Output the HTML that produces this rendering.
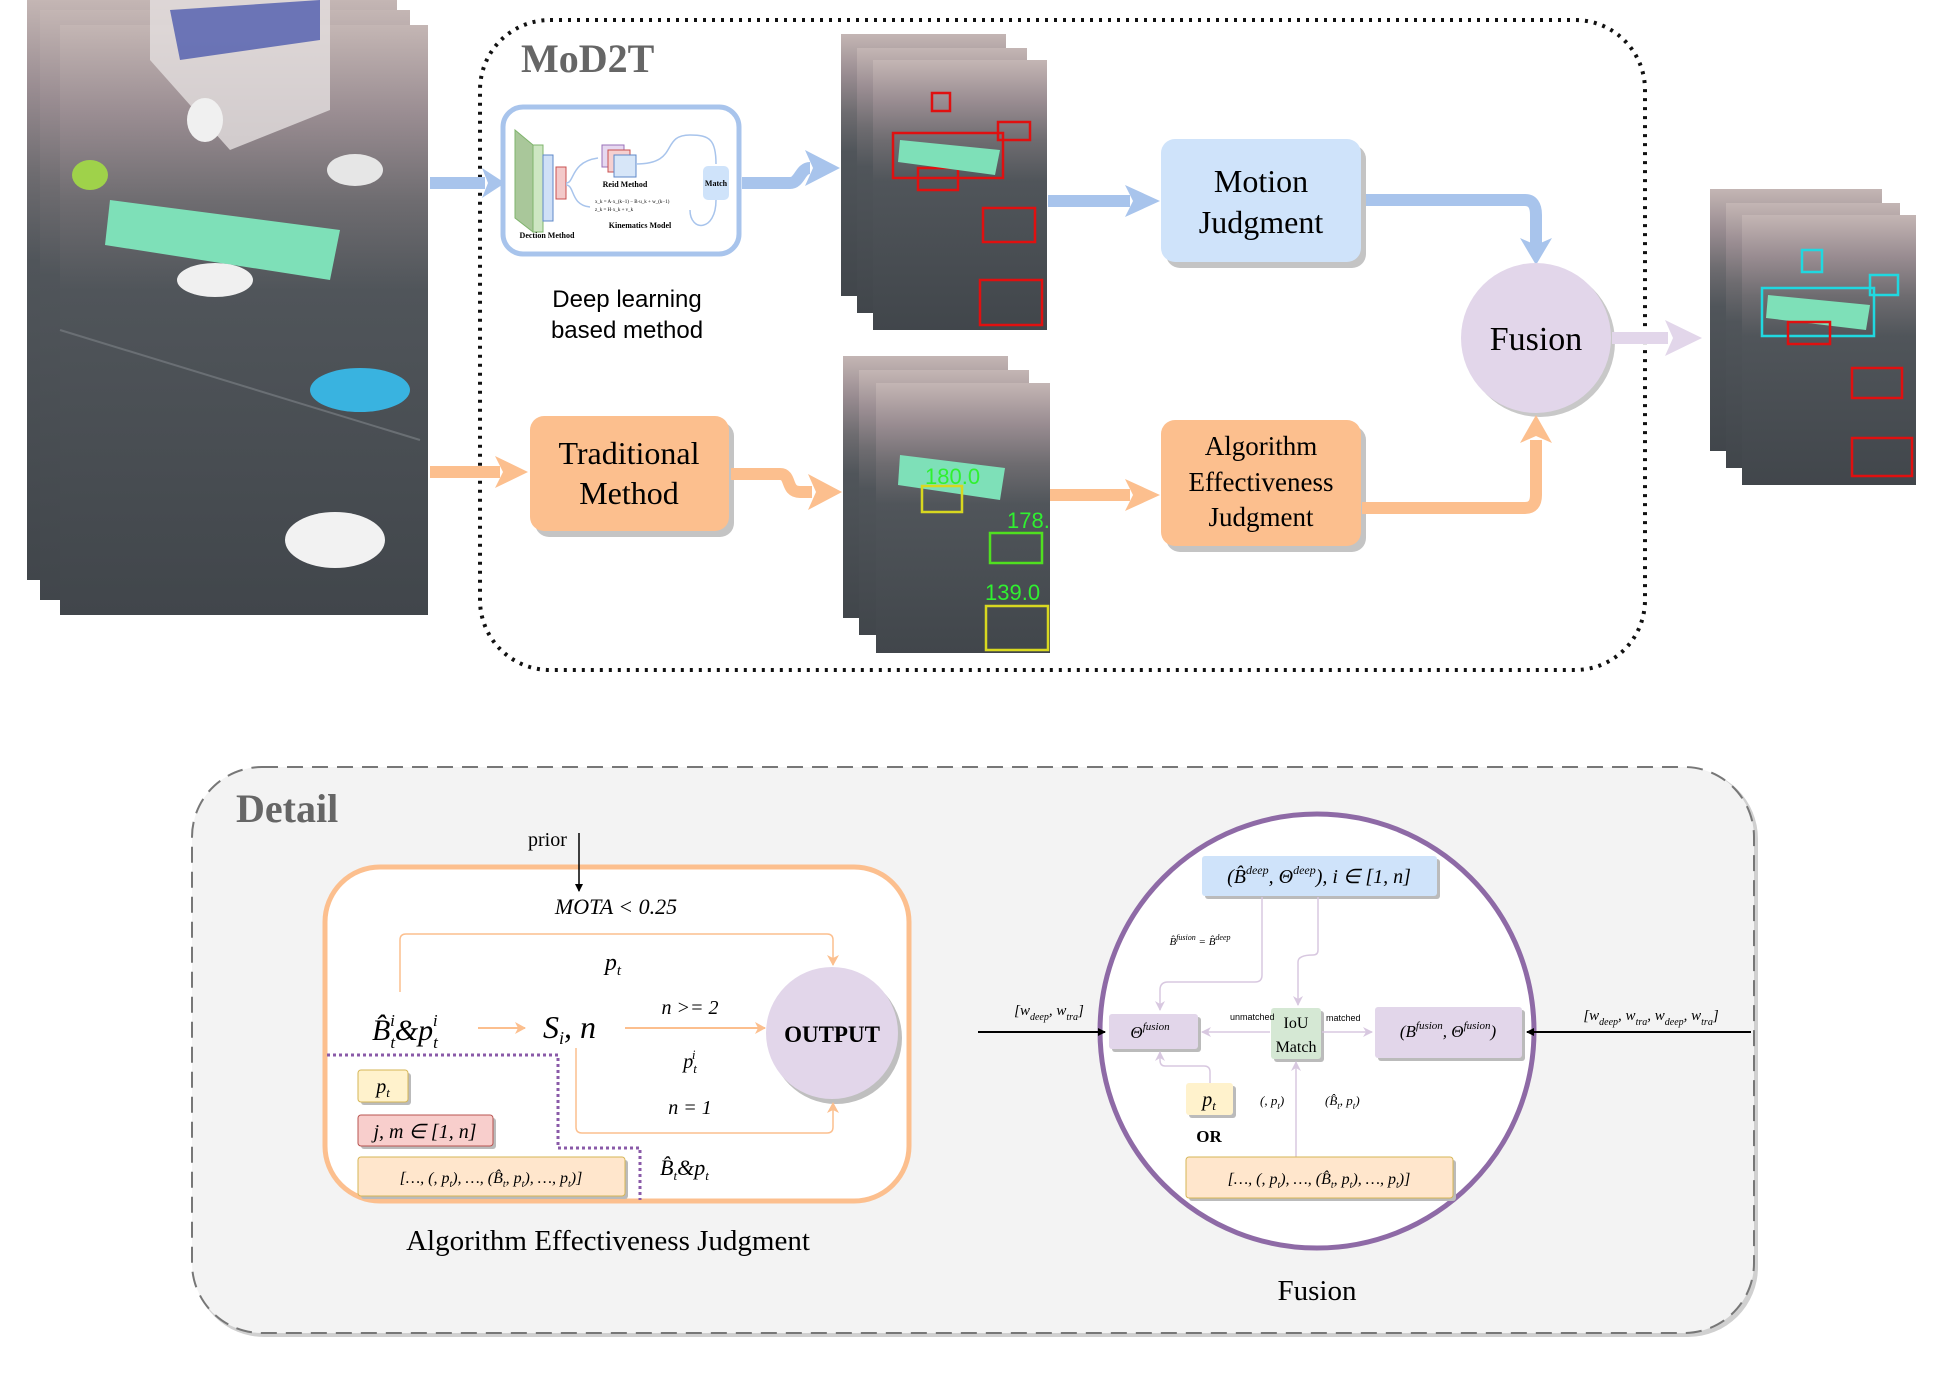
<!DOCTYPE html>
<html><head><meta charset="utf-8"><style>
html,body{margin:0;padding:0;background:#fff;}
svg{display:block;}
.serif{font-family:"Liberation Serif",serif;}
.sans{font-family:"Liberation Sans",sans-serif;}
</style></head><body>
<svg width="1937" height="1376" viewBox="0 0 1937 1376" xmlns="http://www.w3.org/2000/svg">
<defs>
<linearGradient id="road" x1="0" y1="0" x2="0" y2="1">
<stop offset="0" stop-color="#c4b6b4"/><stop offset="0.15" stop-color="#9a8d92"/><stop offset="0.3" stop-color="#6e6c70"/><stop offset="0.45" stop-color="#50555a"/><stop offset="1" stop-color="#41464b"/>
</linearGradient>
<marker id="ab" markerWidth="8" markerHeight="8" refX="7" refY="4" orient="auto" markerUnits="userSpaceOnUse"><path d="M0,0 L8,4 L0,8 Z" fill="#000"/></marker>
<marker id="ao" markerWidth="12" markerHeight="12" refX="10" refY="6" orient="auto" markerUnits="userSpaceOnUse"><path d="M0,0 L11,6 L0,12 L3,6 Z" fill="#fcbf8e"/></marker>
<marker id="ap" markerWidth="10" markerHeight="10" refX="9" refY="5" orient="auto" markerUnits="userSpaceOnUse"><path d="M0,0 L10,5 L0,10 L3,5 Z" fill="#d8c8e0"/></marker>
</defs>

<!-- left photo stack -->
<rect x="27" y="0" width="370" height="580" fill="url(#road)"/>
<rect x="40" y="10" width="370" height="590" fill="url(#road)"/>
<rect x="60" y="25" width="368" height="590" fill="url(#road)"/>
<polygon points="150,0 330,0 330,110 230,150 150,60" fill="#e4dede" opacity="0.8"/>
<polygon points="170,10 320,0 320,40 180,60" fill="#3a4aa8" opacity="0.7"/>
<polygon points="110,200 340,230 330,280 105,245" fill="#7ee0b8"/>
<ellipse cx="360" cy="390" rx="50" ry="22" fill="#39b3e0"/>
<ellipse cx="335" cy="540" rx="50" ry="28" fill="#f2f2f2"/>
<ellipse cx="215" cy="280" rx="38" ry="17" fill="#f0f0f0"/>
<ellipse cx="205" cy="120" rx="18" ry="22" fill="#f0f0f0"/>
<ellipse cx="355" cy="170" rx="28" ry="16" fill="#e6e6e6"/>
<ellipse cx="90" cy="175" rx="18" ry="15" fill="#9fd24a"/>
<line x1="60" y1="330" x2="420" y2="440" stroke="#6a6f74" stroke-width="2"/>

<!-- MoD2T dotted box -->
<rect x="480" y="20" width="1165" height="650" rx="70" fill="none" stroke="#111" stroke-width="4" stroke-dasharray="3,6"/>
<text x="521" y="72" class="serif" font-size="40" font-weight="bold" fill="#666">MoD2T</text>

<!-- deep learning box -->
<rect x="503" y="107" width="236" height="147" rx="20" fill="#fff" stroke="#a8c4ec" stroke-width="5"/>
<polygon points="515,130 533,145 533,232 515,218" fill="#a9c79a" stroke="#7fb46c"/>
<rect x="533" y="145" width="10" height="87" fill="#cde6c2" stroke="#7fb46c"/>
<rect x="543" y="155" width="10" height="66" fill="#cfe0f7" stroke="#5f88c8"/>
<rect x="556" y="167" width="10" height="32" fill="#f3c9c9" stroke="#c85050"/>
<rect x="602" y="145" width="22" height="22" fill="#e6d8f0" stroke="#9a70b8"/>
<rect x="608" y="150" width="22" height="22" fill="#f6d0d0" stroke="#c85050"/>
<rect x="614" y="155" width="22" height="22" fill="#d7e6f8" stroke="#5f88c8"/>
<rect x="703" y="166" width="26" height="34" rx="5" fill="#cfe3fa"/>
<text x="716" y="186" class="serif" font-size="8" font-weight="bold" text-anchor="middle">Match</text>
<text x="625" y="187" class="serif" font-size="8" font-weight="bold" text-anchor="middle">Reid Method</text>
<text x="640" y="228" class="serif" font-size="8" font-weight="bold" text-anchor="middle">Kinematics Model</text>
<text x="547" y="238" class="serif" font-size="8" font-weight="bold" text-anchor="middle">Dection Method</text>
<text x="595" y="203" class="serif" font-size="5">x_k = A·x_(k−1) − B·u_k + w_(k−1)</text>
<text x="595" y="211" class="serif" font-size="5">z_k = H·x_k + v_k</text>
<path d="M636,164 C680,164 660,135 690,135 C710,135 716,140 716,164" fill="none" stroke="#a8c4ec" stroke-width="1.5"/>
<path d="M566,183 C575,183 570,162 598,158 M566,185 C575,185 570,205 590,207" fill="none" stroke="#a8c4ec" stroke-width="1.5"/>
<path d="M690,210 C690,232 716,232 716,200" fill="none" stroke="#a8c4ec" stroke-width="1.5"/>
<text x="627" y="307" class="sans" font-size="24" text-anchor="middle">Deep learning</text>
<text x="627" y="338" class="sans" font-size="24" text-anchor="middle">based method</text>

<!-- blue arrows -->
<path d="M430,183 L485,183" stroke="#a8c4ec" stroke-width="12" fill="none"/>
<polygon points="482,168 505,183 482,198 488,183" fill="#a8c4ec"/>
<path d="M742,183 L790,183 C800,183 800,168 810,168" stroke="#a8c4ec" stroke-width="12" fill="none"/>
<polygon points="805,150 840,168 805,186 813,168" fill="#a8c4ec"/>
<path d="M1048,201 L1130,201" stroke="#a8c4ec" stroke-width="12" fill="none"/>
<polygon points="1125,185 1160,201 1125,217 1133,201" fill="#a8c4ec"/>
<path d="M1362,200 L1525,200 Q1536,200 1536,215 L1536,245" stroke="#a8c4ec" stroke-width="12" fill="none"/>
<polygon points="1520,238 1536,265 1552,238 1536,245" fill="#a8c4ec"/>

<!-- top mid image stack -->
<rect x="841" y="34" width="165" height="262" fill="url(#road)"/>
<rect x="857" y="48" width="170" height="265" fill="url(#road)"/>
<rect x="873" y="60" width="174" height="270" fill="url(#road)"/>
<g fill="none" stroke="#e01010" stroke-width="2.5">
<rect x="893" y="133" width="110" height="45"/><rect x="918" y="168" width="40" height="22"/>
<rect x="983" y="208" width="52" height="34"/><rect x="980" y="280" width="62" height="45"/>
<rect x="998" y="122" width="32" height="18"/><rect x="932" y="93" width="18" height="18"/>
</g>
<polygon points="900,140 1000,150 995,175 898,162" fill="#7ee0b8"/>

<!-- Motion judgment -->
<rect x="1166" y="145" width="200" height="123" rx="14" fill="#c4c4c4"/>
<rect x="1161" y="139" width="200" height="123" rx="14" fill="#cfe3fa"/>
<text x="1261" y="192" class="serif" font-size="32" text-anchor="middle">Motion</text>
<text x="1261" y="233" class="serif" font-size="32" text-anchor="middle">Judgment</text>

<!-- Fusion circle -->
<circle cx="1540" cy="342" r="75" fill="#c8c8c8"/>
<circle cx="1536" cy="338" r="75" fill="#e2d6ea"/>
<text x="1536" y="350" class="serif" font-size="34" text-anchor="middle">Fusion</text>
<path d="M1612,338 L1668,338" stroke="#e2d6ea" stroke-width="12"/>
<polygon points="1665,320 1702,338 1665,356 1673,338" fill="#e2d6ea"/>

<!-- right output stack -->
<rect x="1710" y="189" width="172" height="262" fill="url(#road)"/>
<rect x="1726" y="203" width="174" height="265" fill="url(#road)"/>
<rect x="1742" y="215" width="174" height="270" fill="url(#road)"/>
<g fill="none" stroke="#20d8e0" stroke-width="2.5">
<rect x="1762" y="288" width="112" height="48"/><rect x="1802" y="250" width="20" height="22"/><rect x="1870" y="275" width="28" height="20"/>
</g>
<polygon points="1768,295 1870,305 1866,330 1766,318" fill="#7ee0b8"/>
<g fill="none" stroke="#e01010" stroke-width="2.5">
<rect x="1788" y="322" width="42" height="22"/><rect x="1852" y="368" width="50" height="30"/><rect x="1852" y="438" width="60" height="38"/>
</g>

<!-- Traditional -->
<path d="M430,472 L500,472" stroke="#fcbf8e" stroke-width="12"/>
<polygon points="495,456 528,472 495,488 503,472" fill="#fcbf8e"/>
<rect x="535" y="422" width="199" height="115" rx="14" fill="#c4c4c4"/>
<rect x="530" y="416" width="199" height="115" rx="14" fill="#fcbf8e"/>
<text x="629" y="464" class="serif" font-size="32" text-anchor="middle">Traditional</text>
<text x="629" y="504" class="serif" font-size="32" text-anchor="middle">Method</text>
<path d="M731,474 L780,474 C792,474 785,492 800,492 L812,492" stroke="#fcbf8e" stroke-width="12" fill="none"/>
<polygon points="808,474 842,492 808,510 816,492" fill="#fcbf8e"/>

<!-- bottom mid image stack -->
<rect x="843" y="356" width="165" height="262" fill="url(#road)"/>
<rect x="859" y="370" width="170" height="265" fill="url(#road)"/>
<rect x="876" y="383" width="174" height="270" fill="url(#road)"/>
<polygon points="900,455 1005,468 1000,500 898,485" fill="#7ee0b8"/>
<g fill="none" stroke-width="2.5">
<rect x="922" y="486" width="40" height="26" stroke="#d8d820"/><rect x="990" y="533" width="52" height="30" stroke="#50e020"/>
<rect x="986" y="606" width="62" height="44" stroke="#d8d820"/>
</g>
<g class="sans" font-size="22" fill="#30f030">
<text x="925" y="484">180.0</text><text x="1007" y="528">178.</text><text x="985" y="600">139.0</text>
</g>
<path d="M1050,495 L1130,495" stroke="#fcbf8e" stroke-width="12"/>
<polygon points="1125,479 1160,495 1125,511 1133,495" fill="#fcbf8e"/>

<!-- Algorithm box -->
<rect x="1166" y="426" width="200" height="126" rx="14" fill="#c4c4c4"/>
<rect x="1161" y="420" width="200" height="126" rx="14" fill="#fcbf8e"/>
<text x="1261" y="455" class="serif" font-size="27" text-anchor="middle">Algorithm</text>
<text x="1261" y="491" class="serif" font-size="27" text-anchor="middle">Effectiveness</text>
<text x="1261" y="526" class="serif" font-size="27" text-anchor="middle">Judgment</text>
<path d="M1362,508 L1525,508 Q1536,508 1536,495 L1536,440" stroke="#fcbf8e" stroke-width="12" fill="none"/>
<polygon points="1520,443 1536,415 1552,443 1536,436" fill="#fcbf8e"/>

<!-- Detail -->
<rect x="194" y="769" width="1564" height="568" rx="70" fill="#d0d0d0"/>
<rect x="192" y="767" width="1562" height="566" rx="70" fill="#f3f3f3" stroke="#777" stroke-width="2" stroke-dasharray="16,9"/>
<text x="236" y="822" class="serif" font-size="40" font-weight="bold" fill="#666">Detail</text>

<!-- AEJ box -->
<rect x="325" y="867" width="584" height="334" rx="55" fill="#fff" stroke="#fcbf8e" stroke-width="5"/>
<text x="528" y="846" class="serif" font-size="20">prior</text>
<line x1="579" y1="833" x2="579" y2="891" stroke="#000" stroke-width="1.5" marker-end="url(#ab)"/>
<text x="616" y="914" class="serif" font-size="22" font-style="italic" text-anchor="middle">MOTA &lt; 0.25</text>
<path d="M400,992 L400,940 Q400,934 406,934 L827,934 Q833,934 833,940 L833,965" fill="none" stroke="#fcbf8e" stroke-width="1.5" marker-end="url(#ao)"/>
<text x="613" y="970" class="serif" font-size="24" font-style="italic" text-anchor="middle">p<tspan font-size="15" dy="5">t</tspan></text>
<circle cx="836" cy="1038" r="66" fill="#bfbfbf"/>
<circle cx="832" cy="1033" r="66" fill="#e2d6ea"/>
<text x="832" y="1042" class="serif" font-size="23" font-weight="bold" text-anchor="middle">OUTPUT</text>
<text x="372" y="1040" class="serif" font-size="30" font-style="italic">B̂<tspan font-size="17" dy="8">t</tspan><tspan font-size="17" dy="-22" dx="-5">i</tspan><tspan font-size="30" dy="14">&amp;p</tspan><tspan font-size="17" dy="8">t</tspan><tspan font-size="17" dy="-22" dx="-5">i</tspan></text>
<line x1="478" y1="1028" x2="525" y2="1028" stroke="#fcbf8e" stroke-width="2" marker-end="url(#ao)"/>
<text x="543" y="1038" class="serif" font-size="32" font-style="italic">S<tspan font-size="18" dy="6">i</tspan><tspan dy="-6">, n</tspan></text>
<line x1="625" y1="1028" x2="765" y2="1028" stroke="#fcbf8e" stroke-width="2" marker-end="url(#ao)"/>
<text x="690" y="1014" class="serif" font-size="20" font-style="italic" text-anchor="middle">n &gt;= 2</text>
<text x="690" y="1068" class="serif" font-size="20" font-style="italic" text-anchor="middle">p<tspan font-size="13" dy="5">t</tspan><tspan font-size="13" dy="-14" dx="-5">i</tspan></text>
<text x="690" y="1114" class="serif" font-size="20" font-style="italic" text-anchor="middle">n = 1</text>
<path d="M576,1048 L576,1127 Q576,1133 582,1133 L827,1133 Q833,1133 833,1127 L833,1103" fill="none" stroke="#fcbf8e" stroke-width="1.5" marker-end="url(#ao)"/>
<path d="M327,1055 L558,1055 L558,1148 L640,1148 L640,1200" fill="none" stroke="#8a5aa8" stroke-width="3" stroke-dasharray="3,3"/>
<rect x="361" y="1073" width="50" height="32" rx="3" fill="#bbb"/>
<rect x="358" y="1070" width="50" height="32" rx="3" fill="#fff2cc" stroke="#d6b656"/>
<text x="383" y="1093" class="serif" font-size="20" font-style="italic" text-anchor="middle">p<tspan font-size="13" dy="4">t</tspan></text>
<rect x="361" y="1118" width="135" height="31" rx="3" fill="#bbb"/>
<rect x="358" y="1115" width="135" height="31" rx="3" fill="#f8cecc" stroke="#b85450"/>
<text x="425" y="1138" class="serif" font-size="20" font-style="italic" text-anchor="middle">j, m ∈ [1, n]</text>
<rect x="361" y="1160" width="267" height="39" rx="3" fill="#bbb"/>
<rect x="358" y="1157" width="267" height="39" rx="3" fill="#ffe6cc" stroke="#d6b656"/>
<text x="491" y="1183" class="serif" font-size="16" font-style="italic" text-anchor="middle">[…, (, p<tspan font-size="10" dy="4">t</tspan><tspan dy="-4">), …, (B̂</tspan><tspan font-size="10" dy="4">t</tspan><tspan dy="-4">, p</tspan><tspan font-size="10" dy="4">t</tspan><tspan dy="-4">), …, p</tspan><tspan font-size="10" dy="4">t</tspan><tspan dy="-4">)]</tspan></text>
<text x="660" y="1175" class="serif" font-size="22" font-style="italic">B̂<tspan font-size="13" dy="5">t</tspan><tspan dy="-5">&amp;p</tspan><tspan font-size="13" dy="5">t</tspan></text>
<text x="608" y="1250" class="serif" font-size="29" text-anchor="middle">Algorithm Effectiveness Judgment</text>

<!-- Fusion detail circle -->
<circle cx="1317" cy="1031" r="217" fill="#fff" stroke="#8e6aa6" stroke-width="5"/>
<rect x="1205" y="859" width="235" height="40" rx="3" fill="#bbb"/>
<rect x="1202" y="856" width="235" height="40" rx="3" fill="#cfe3fa"/>
<text x="1319" y="883" class="serif" font-size="20" font-style="italic" text-anchor="middle">(B̂<tspan font-size="12" dy="-9">deep</tspan><tspan dy="9">, Θ</tspan><tspan font-size="12" dy="-9">deep</tspan><tspan dy="9">), i ∈ [1, n]</tspan></text>
<path d="M1262,897 L1262,975 Q1262,982 1255,982 L1168,982 Q1160,982 1160,990 L1160,1010" fill="none" stroke="#d8c8e0" stroke-width="1.5" marker-end="url(#ap)"/>
<path d="M1318,897 L1318,950 Q1318,955 1313,955 Q1298,955 1298,962 L1298,1005" fill="none" stroke="#d8c8e0" stroke-width="1.5" marker-end="url(#ap)"/>
<text x="1200" y="945" class="serif" font-size="11" font-style="italic" text-anchor="middle">B̂<tspan font-size="8" dy="-5">fusion</tspan><tspan dy="5"> = B̂</tspan><tspan font-size="8" dy="-5">deep</tspan></text>
<rect x="1112" y="1017" width="89" height="35" rx="3" fill="#bbb"/>
<rect x="1109" y="1014" width="89" height="35" rx="3" fill="#e2d6ea"/>
<text x="1150" y="1038" class="serif" font-size="17" font-style="italic" text-anchor="middle">Θ<tspan font-size="11" dy="-8">fusion</tspan></text>
<rect x="1274" y="1011" width="50" height="51" rx="3" fill="#bbb"/>
<rect x="1271" y="1008" width="50" height="51" rx="3" fill="#d5e8d4"/>
<text x="1296" y="1028" class="serif" font-size="16" text-anchor="middle">IoU</text>
<text x="1296" y="1052" class="serif" font-size="16" text-anchor="middle">Match</text>
<rect x="1378" y="1010" width="147" height="51" rx="3" fill="#bbb"/>
<rect x="1375" y="1007" width="147" height="51" rx="3" fill="#e2d6ea"/>
<text x="1448" y="1037" class="serif" font-size="17" font-style="italic" text-anchor="middle">(B<tspan font-size="11" dy="-8">fusion</tspan><tspan dy="8">, Θ</tspan><tspan font-size="11" dy="-8">fusion</tspan><tspan dy="8">)</tspan></text>
<line x1="1270" y1="1032" x2="1202" y2="1032" stroke="#d8c8e0" stroke-width="1.5" marker-end="url(#ap)"/>
<line x1="1322" y1="1032" x2="1372" y2="1032" stroke="#d8c8e0" stroke-width="1.5" marker-end="url(#ap)"/>
<text x="1230" y="1020" class="sans" font-size="9">unmatched</text>
<text x="1326" y="1021" class="sans" font-size="9">matched</text>
<path d="M1210,1083 L1210,1072 Q1210,1066 1204,1066 L1165,1066 Q1160,1066 1160,1060 L1160,1052" fill="none" stroke="#d8c8e0" stroke-width="1.5" marker-end="url(#ap)"/>
<line x1="1296" y1="1157" x2="1296" y2="1062" stroke="#d8c8e0" stroke-width="1.5" marker-end="url(#ap)"/>
<rect x="1189" y="1086" width="47" height="32" rx="3" fill="#bbb"/>
<rect x="1186" y="1083" width="47" height="32" rx="3" fill="#fff2cc"/>
<text x="1209" y="1106" class="serif" font-size="20" font-style="italic" text-anchor="middle">p<tspan font-size="13" dy="4">t</tspan></text>
<text x="1209" y="1142" class="serif" font-size="17" font-weight="bold" text-anchor="middle">OR</text>
<text x="1260" y="1105" class="serif" font-size="13" font-style="italic">(, p<tspan font-size="9" dy="4">t</tspan><tspan dy="-4">)</tspan></text>
<text x="1325" y="1105" class="serif" font-size="13" font-style="italic">(B̂<tspan font-size="9" dy="4">t</tspan><tspan dy="-4">, p</tspan><tspan font-size="9" dy="4">t</tspan><tspan dy="-4">)</tspan></text>
<rect x="1189" y="1160" width="267" height="41" rx="3" fill="#bbb"/>
<rect x="1186" y="1157" width="267" height="41" rx="3" fill="#ffe6cc" stroke="#d6b656"/>
<text x="1319" y="1184" class="serif" font-size="16" font-style="italic" text-anchor="middle">[…, (, p<tspan font-size="10" dy="4">t</tspan><tspan dy="-4">), …, (B̂</tspan><tspan font-size="10" dy="4">t</tspan><tspan dy="-4">, p</tspan><tspan font-size="10" dy="4">t</tspan><tspan dy="-4">), …, p</tspan><tspan font-size="10" dy="4">t</tspan><tspan dy="-4">)]</tspan></text>
<line x1="978" y1="1032" x2="1105" y2="1032" stroke="#000" stroke-width="2" marker-end="url(#ab)"/>
<text x="1049" y="1015" class="serif" font-size="15" font-style="italic" text-anchor="middle">[w<tspan font-size="10" dy="5">deep</tspan><tspan dy="-5">, w</tspan><tspan font-size="10" dy="5">tra</tspan><tspan dy="-5">]</tspan></text>
<line x1="1751" y1="1032" x2="1527" y2="1032" stroke="#000" stroke-width="2" marker-end="url(#ab)"/>
<text x="1651" y="1020" class="serif" font-size="15" font-style="italic" text-anchor="middle">[w<tspan font-size="10" dy="5">deep</tspan><tspan dy="-5">, w</tspan><tspan font-size="10" dy="5">tra</tspan><tspan dy="-5">, w</tspan><tspan font-size="10" dy="5">deep</tspan><tspan dy="-5">, w</tspan><tspan font-size="10" dy="5">tra</tspan><tspan dy="-5">]</tspan></text>
<text x="1317" y="1300" class="serif" font-size="29" text-anchor="middle">Fusion</text>
</svg>
</body></html>
